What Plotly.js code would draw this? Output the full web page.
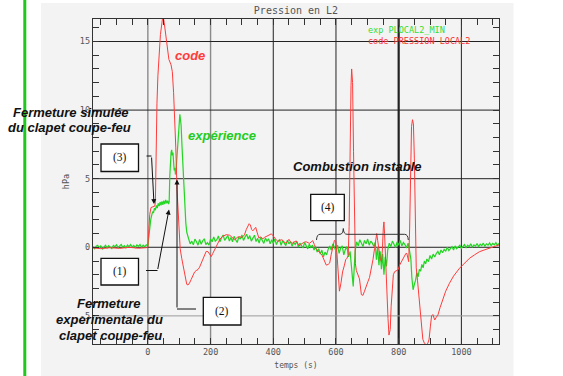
<!DOCTYPE html>
<html><head><meta charset="utf-8">
<script src="https://cdn.plot.ly/plotly-3.0.1.min.js"></script>
<style>html,body{margin:0;padding:0;background:#fff;}#chart{width:563px;height:376px;}</style>
</head><body><div id="chart"></div>
<script>
// ---- data (time in s, pressure in hPa) ----
const expSeries = [
[-175,0.05],[-170,-0.1],[-165,0.08],[-160,0.15],[-155,-0.05],[-150,0.1],[-145,-0.12],[-140,0.02],[-135,0.15],[-130,-0.05],
[-125,0.12],[-120,0.0],[-115,-0.1],[-110,0.14],[-105,0.05],[-100,0.18],[-95,-0.02],[-90,0.1],[-85,0.2],[-80,0.0],[-75,0.12],
[-70,-0.05],[-65,0.16],[-60,0.05],[-55,0.2],[-50,0.02],[-45,0.14],[-40,-0.02],[-35,0.18],[-30,0.08],[-25,0.2],[-20,0.0],
[-15,0.15],[-10,0.05],[-5,0.18],[0,0.1],
[3,0.9],[6,1.5],[9,2.0],[12,2.3],[15,2.6],[18,2.5],[21,2.85],[24,2.7],[27,3.05],[30,2.85],[33,3.2],[36,3.0],[39,3.3],[42,3.05],[45,3.35],
[48,3.1],[51,3.4],[54,3.15],[57,3.45],[60,3.2],[63,3.4],[66,3.15],[68,3.3],[70,5.2],[72,6.3],[74,6.9],[76,7.1],[78,6.7],[80,6.9],[82,6.2],
[84,5.6],[86,5.8],[88,5.3],[90,5.6],[92,6.4],[95,7.8],[98,8.9],[100,9.5],[102,9.7],[104,9.3],[106,8.9],[109,7.3],[112,5.8],[115,4.2],
[118,2.8],[121,1.8],[124,1.1],[128,0.65],
[130,0.62],[135,0.25],[140,0.45],[145,0.18],[150,0.6],[155,0.4],[160,0.15],[165,0.58],[170,0.22],[175,0.48],[180,0.62],[185,0.2],
[190,0.35],[195,0.15],[200,0.6],[205,0.4],[210,0.75],[215,0.45],[220,0.55],[225,0.82],[230,0.4],[235,0.7],[240,0.9],[245,0.5],
[250,0.65],[255,0.85],[260,0.45],[265,0.72],[270,0.4],[275,0.8],[280,0.55],[285,0.35],[290,0.75],[295,0.6],[300,0.9],[305,0.5],
[310,0.75],[315,0.95],[320,0.6],[325,0.85],[330,0.45],[335,0.7],[340,0.88],[345,0.42],[350,0.65],[355,0.3],[360,0.72],[365,0.5],
[370,0.28],[375,0.68],[380,0.45],[385,0.62],[390,0.25],[395,0.55],[400,0.3],[405,0.6],[410,0.2],[415,0.45],[420,0.55],[425,0.15],
[430,0.48],[435,0.3],[440,0.12],[445,0.52],[450,0.25],[455,0.42],[460,0.08],[465,0.35],[470,0.2],[475,0.45],[480,0.02],[485,0.3],
[490,0.15],[495,-0.05],[500,0.35],[505,0.1],[510,-0.12],[515,0.22],[520,0.0],[525,0.15],[530,-0.2],[535,0.05],[540,-0.35],[545,-0.1],
[550,-0.5],[555,-0.2],[560,-0.7],[565,-0.35],[570,-0.55],[575,-0.15],[580,0.1],[585,-0.2],[590,0.25],[595,0.0],[600,-0.3],[605,0.15],
[610,-0.45],[615,-0.05],[620,0.1],[625,-0.55],[630,-0.15],[635,0.05],[640,-0.7],[645,-0.3],
[649,-1.4],[652,-2.2],[655,-2.85],[658,-1.6],[661,-0.3],
[666,0.4],[671,0.1],[676,0.55],[681,0.3],[686,0.05],[691,0.5],[696,0.25],[701,0.6],[706,0.15],[711,0.45],[716,0.3],[721,0.05],[725,0.35],
[729,-0.9],[733,0.0],[737,-1.3],[741,-0.3],[745,-1.6],[749,-0.5],[753,-2.0],[757,-0.7],[761,-1.4],[765,-0.2],
[770,0.3],[775,0.05],[780,0.45],[785,0.2],[790,-0.02],[795,0.4],[800,0.15],[805,0.5],[810,0.1],[815,0.35],[820,0.2],[825,-0.05],[830,0.3],
[835,-0.3],[839,-0.9],[842,-2.2],[846,-3.1],[850,-2.7],
[854,-2.4],[858,-1.85],[862,-2.15],[866,-1.6],[870,-1.75],[874,-1.25],[878,-1.5],[882,-1.0],[886,-1.2],[890,-0.85],[895,-1.05],
[900,-0.6],[905,-0.85],[910,-0.5],[915,-0.7],[920,-0.45],[925,-0.3],[930,-0.55],[935,-0.2],[940,-0.4],[945,-0.15],[950,-0.3],
[955,0.0],[960,-0.25],[965,-0.1],[970,0.05],[975,-0.2],[980,0.1],[985,-0.1],[990,0.0],[995,0.15],[1000,-0.08],[1005,0.1],[1010,0.2],
[1015,-0.02],[1020,0.15],[1025,0.05],[1030,0.25],[1035,0.0],[1040,0.18],[1045,0.08],[1050,0.28],[1055,0.05],[1060,0.22],[1065,0.12],
[1070,0.3],[1075,0.08],[1080,0.25],[1085,0.15],[1090,0.32],[1095,0.12],[1100,0.28],[1105,0.18],[1110,0.34],[1115,0.14],[1120,0.28]
];
const codeSeries = [
[-176,-0.05],[-150,-0.1],[-120,-0.03],[-90,-0.08],[-60,0.0],[-30,-0.07],[-5,-0.03],[0,0.0],[3,1.3],[6,2.4],[10,2.9],[16,2.95],[22,3.0],
[24,3.3],[26,7.5],[29,10.5],[32,12.5],[36,14.2],[40,15.5],[44,16.2],[48,16.9],[52,16.4],[56,15.7],[61,14.9],[67,13.7],[74,13.3],[78,12.8],
[82,11.3],[86,9.5],[89,7.3],[93,4.2],[98,1.6],[103,-0.1],[108,-0.8],[112,-1.3],[116,-1.9],[120,-2.4],[124,-2.7],[128,-2.75],[133,-2.6],
[138,-2.35],[144,-2.0],[149,-1.8],[154,-1.7],[160,-1.62],[165,-1.45],[170,-1.15],[176,-0.75],[181,-0.45],[186,-0.3],[192,-0.32],[197,-0.5],
[202,-0.68],[207,-0.45],[213,-0.15],[218,0.1],[223,0.35],[230,0.6],[239,0.8],[250,0.92],[261,0.88],[270,0.68],[277,0.55],[285,0.72],
[292,0.78],[300,0.7],[308,0.9],[314,1.3],[319,1.55],[323,1.72],[327,1.62],[331,1.3],[335,1.2],[339,1.35],[344,1.45],[349,1.05],[354,0.68],
[360,0.75],[367,0.62],[372,0.72],[378,0.8],[386,0.88],[394,0.98],[399,0.85],[405,0.65],[410,0.52],[415,0.42],[420,0.5],[425,0.55],[431,0.5],
[436,0.35],[441,0.3],[446,0.45],[450,0.58],[455,0.4],[460,0.28],[466,0.38],[473,0.46],[479,0.25],[484,0.12],[490,0.25],[495,0.35],
[500,0.38],[505,0.4],[510,0.35],[516,0.28],[521,0.4],[526,0.48],[531,0.2],[535,-0.05],[540,-0.2],[546,-0.32],[551,-0.45],[556,-0.6],
[562,-0.95],[569,-1.3],[575,-1.25],[580,-1.15],[585,-0.5],[590,0.15],[595,0.5],[599,0.45],[603,-0.4],[607,-1.8],[611,-3.2],[616,-2.6],
[621,-1.8],[627,-1.3],[631,-0.9],[635,-0.8],[639,-0.6],[642,1.5],[645,8.5],[648,11.8],[650,13.0],[653,12.0],[656,7.0],[659,1.0],[662,-1.2],
[665,-1.7],[670,-2.0],[675,-2.3],[681,-3.45],[686,-3.5],[691,-3.2],[697,-2.75],[702,-2.5],[707,-2.2],[713,-1.55],[718,-0.9],[723,-0.1],
[727,0.6],[730,1.0],[733,0.5],[737,-0.3],[741,-0.8],[745,-1.05],[748,-0.2],[751,1.4],[753,1.85],[755,1.0],[757,-0.3],[760,-2.0],[763,-3.8],
[766,-5.2],[769,-6.4],[773,-6.0],[776,-4.3],[780,-2.5],[783,-2.0],[787,-1.78],[792,-1.7],[798,-1.65],[803,-1.3],[808,-1.1],[813,-0.8],
[819,-0.6],[823,-0.45],[826,-0.45],[829,-0.8],[832,-1.05],[835,1.4],[838,5.5],[841,8.8],[844,9.3],[847,9.0],[850,6.5],[853,1.0],[856,-1.5],
[860,-2.4],[864,-3.3],[868,-4.3],[872,-5.3],[877,-6.7],[882,-7.0],[888,-7.1],[893,-7.0],[897,-6.7],[901,-5.8],[905,-5.0],[909,-4.9],
[912,-5.1],[915,-5.3],[920,-5.1],[925,-4.95],[932,-4.4],[941,-3.84],[950,-3.2],[962,-2.62],[975,-2.1],[994,-1.53],[1010,-1.15],[1026,-0.8],
[1042,-0.55],[1058,-0.32],[1075,-0.18],[1090,-0.07],[1105,0.05],[1120,0.17]
];
const xTickVals = [0, 200, 400, 600, 800, 1000];
const yTickVals = [-5, 0, 5, 10, 15];
const xGridLight = [0, 200];
const xGridDark = [400, 600, 1000];
const xGridHeavy = [800];
const yGridDark = [0, 5, 10, 15];
const yGridLight = [-5];
const legendLabels = ['exp PLOCAL2_MIN', 'code PRESSION LOCAL2'];

// ---- layout helpers (pixel -> paper) ----
const W = 563, H = 376, ML = 93, MR = 64, MT = 19, MB = 32;
const PW = W - ML - MR, PH = H - MT - MB;
const fx = px => (px - ML) / PW;
const fy = py => (H - MB - py) / PH;

const RED = '#ff3b3b', GREEN = '#22d622';

const traces = [
  {x: expSeries.map(p => p[0]), y: expSeries.map(p => p[1]), mode: 'lines', name: legendLabels[0],
   line: {color: GREEN, width: 1.2}, hoverinfo: 'skip'},
  {x: codeSeries.map(p => p[0]), y: codeSeries.map(p => p[1]), mode: 'lines', name: legendLabels[1],
   line: {color: RED, width: 1}, hoverinfo: 'skip'}
];

const shapes = [];
shapes.push({type: 'rect', xref: 'paper', yref: 'paper', x0: fx(41), x1: fx(513.5), y0: fy(376), y1: fy(3),
  fillcolor: '#f3f3f3', line: {width: 0}, layer: 'below'});
shapes.push({type: 'line', xref: 'paper', yref: 'paper', x0: fx(24.8), x1: fx(24.8), y0: fy(376), y1: fy(0),
  line: {color: '#1ec81e', width: 3}, layer: 'above'});
xGridLight.forEach(v => shapes.push({type: 'line', xref: 'x', yref: 'paper', x0: v, x1: v, y0: 0, y1: 1, line: {color: '#8a8a8a', width: 1.4}, layer: 'below'}));
xGridDark.forEach(v => shapes.push({type: 'line', xref: 'x', yref: 'paper', x0: v, x1: v, y0: 0, y1: 1, line: {color: '#222', width: 1}, layer: 'below'}));
xGridHeavy.forEach(v => shapes.push({type: 'line', xref: 'x', yref: 'paper', x0: v, x1: v, y0: 0, y1: 1, line: {color: '#222', width: 2.2}, layer: 'below'}));
yGridDark.forEach(v => shapes.push({type: 'line', xref: 'paper', yref: 'y', x0: 0, x1: 1, y0: v, y1: v, line: {color: '#222', width: 1}, layer: 'below'}));
yGridLight.forEach(v => shapes.push({type: 'line', xref: 'paper', yref: 'y', x0: 0, x1: 1, y0: v, y1: v, line: {color: '#9a9a9a', width: 1}, layer: 'below'}));

const boxes = [
  {label: '(3)', x0: 101, x1: 138.5, y0: 144, y1: 171.5},
  {label: '(1)', x0: 101, x1: 138.5, y0: 258.3, y1: 285},
  {label: '(2)', x0: 203.3, x1: 241, y0: 297.3, y1: 325},
  {label: '(4)', x0: 310.7, x1: 344.3, y0: 194.3, y1: 220.7}
];
boxes.forEach(b => shapes.push({type: 'rect', xref: 'paper', yref: 'paper', x0: fx(b.x0), x1: fx(b.x1), y0: fy(b.y1), y1: fy(b.y0),
  fillcolor: '#ffffff', line: {color: '#111', width: 1.3}, layer: 'above'}));

const seg = (a, b, c, d) => ({type: 'line', xref: 'paper', yref: 'paper', x0: fx(a), y0: fy(b), x1: fx(c), y1: fy(d), line: {color: '#111', width: 1}, layer: 'above'});
shapes.push(seg(146.5, 156, 151.5, 156));
shapes.push(seg(146, 270.5, 157.5, 270.5));
shapes.push(seg(177, 309, 196, 309));
const P = (px, py) => fx(px).toFixed(5) + ',' + fy(py).toFixed(5);
shapes.push({type: 'path', xref: 'paper', yref: 'paper', layer: 'above', line: {color: '#333', width: 1},
  path: 'M' + P(316.5, 240) + ' Q' + P(316.8, 234.3) + ' ' + P(320, 234.3) + ' L' + P(340, 234.3) + ' Q' + P(343, 234.3) + ' ' + P(343.3, 228.5) +
        ' Q' + P(343.6, 234.3) + ' ' + P(347, 234.3) + ' L' + P(404.5, 234.3) + ' Q' + P(408, 234.3) + ' ' + P(408.3, 240)});

const annotations = [];
const txt = (text, px, py, opts) => Object.assign({text: text, xref: 'paper', yref: 'paper', x: fx(px), y: fy(py),
  xanchor: 'center', yanchor: 'middle', showarrow: false}, opts);
const bi = (color) => ({font: {family: 'Liberation Sans, Arial, sans-serif', size: 13, color: color, weight: 'bold', style: 'italic'}});

annotations.push(txt('<b><i>code</i></b>', 190, 55.7, bi(RED)));
annotations.push(txt('<b><i>expérience</i></b>', 222, 135, bi('#22cc22')));
annotations.push(txt('<b><i>Combustion instable</i></b>', 357.8, 166.7, bi('#111')));
annotations.push(txt('<b><i>Fermeture simulée</i></b>', 70.5, 112, bi('#111')));
annotations.push(txt('<b><i>du clapet coupe-feu</i></b>', 69.7, 127, bi('#111')));
annotations.push(txt('<b><i>Fermeture</i></b>', 109.3, 303.3, bi('#111')));
annotations.push(txt('<b><i>experimentale du</i></b>', 109.7, 319.3, bi('#111')));
annotations.push(txt('<b><i>clapet coupe-feu</i></b>', 110, 335.3, bi('#111')));
boxes.forEach(b => annotations.push(txt(b.label, (b.x0 + b.x1) / 2, (b.y0 + b.y1) / 2,
  {font: {family: 'Liberation Serif, Times New Roman, serif', size: 11.5, color: '#111'}})));
annotations.push(txt(legendLabels[0], 366, 30, {xanchor: 'left', font: {family: 'DejaVu Sans Mono, monospace', size: 8.5, color: '#33dd33'}}));
annotations.push(txt(legendLabels[1], 366, 40.7, {xanchor: 'left', font: {family: 'DejaVu Sans Mono, monospace', size: 8.5, color: '#ff3030'}}));
const arrow = (hx, hy, tx, ty) => ({text: '', xref: 'paper', yref: 'paper', x: fx(hx), y: fy(hy), ax: tx - hx, ay: ty - hy,
  showarrow: true, arrowhead: 2, arrowsize: 1, arrowwidth: 1, arrowcolor: '#111'});
annotations.push(arrow(154, 204, 151.5, 156));
annotations.push(arrow(169, 209.5, 157.5, 270.5));
annotations.push(arrow(177, 179.5, 177, 309));

const tickFont = {family: 'DejaVu Sans Mono, monospace', size: 8.5, color: '#555'};
const layout = {
  width: W, height: H,
  margin: {l: ML, r: MR, t: MT, b: MB, pad: 0},
  paper_bgcolor: '#ffffff', plot_bgcolor: '#f4f4f4',
  showlegend: false,
  title: {text: 'Pression en L2', x: fx(296), xref: 'paper', xanchor: 'center', y: 1 - 10.7 / H, yanchor: 'middle',
          font: {family: 'DejaVu Sans Mono, monospace', size: 10, color: '#555'}},
  xaxis: {range: [-175, 1120], tickvals: xTickVals, ticktext: xTickVals.map(String), showgrid: false, zeroline: false,
          showline: true, linecolor: '#333', linewidth: 1.2, mirror: 'ticks', ticks: 'inside', ticklen: 6, tickcolor: '#333',
          minor: {dtick: 50, tick0: 0, ticks: 'inside', ticklen: 6, tickcolor: '#333', showgrid: false},
          tickfont: tickFont, title: {text: 'temps (s)', font: {family: 'DejaVu Sans Mono, monospace', size: 8, color: '#555'}, standoff: 6}},
  yaxis: {range: [-7.05, 16.64], tickvals: yTickVals, ticktext: yTickVals.map(String), showgrid: false, zeroline: false,
          showline: true, linecolor: '#333', linewidth: 1.2, mirror: 'ticks', ticks: 'inside', ticklen: 6, tickcolor: '#333',
          minor: {dtick: 1, tick0: 0, ticks: 'inside', ticklen: 6, tickcolor: '#333', showgrid: false},
          tickfont: tickFont, title: {text: 'hPa', font: {family: 'DejaVu Sans Mono, monospace', size: 8.5, color: '#555'}, standoff: 8}},
  shapes: shapes,
  annotations: annotations
};
Plotly.newPlot('chart', traces, layout, {staticPlot: true, displayModeBar: false});
</script></body></html>
